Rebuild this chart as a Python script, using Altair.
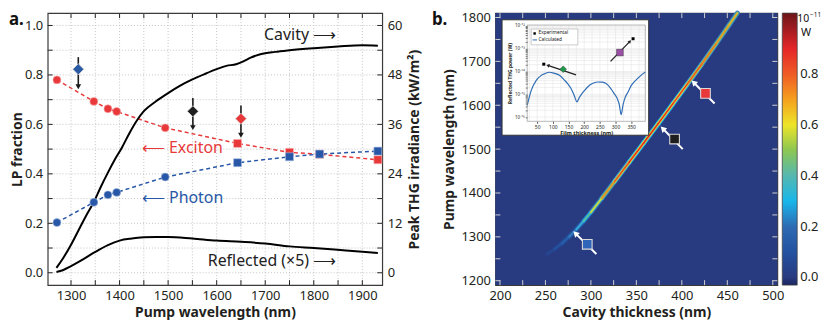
import altair as alt
import pandas as pd

FONT = "Noto Sans"
INK = "#231F20"
RED = "#E8383A"
BLUE = "#2757A6"
NAVY = "#283A80"

# ================= panel a data =================
frac_nm = [1271, 1347, 1376, 1394, 1494, 1643, 1750, 1812, 1932]
exciton = [0.780, 0.693, 0.663, 0.652, 0.586, 0.523, 0.487, 0.479, 0.457]
photon = [0.203, 0.285, 0.315, 0.325, 0.387, 0.445, 0.469, 0.480, 0.492]
frac_shape = ["circle", "circle", "circle", "circle", "circle",
              "square", "square", "square", "square"]

limit_nm = [1315, 1551, 1650]
limit_val = [0.823, 0.653, 0.623]
limit_top = [0.872, 0.707, 0.676]
limit_tip = [0.752, 0.587, 0.556]
limit_fill = ["#2A5AA4", "#1E1E1E", "#E8383A"]

cavity_nm = [1270, 1283, 1300, 1315, 1330, 1348, 1362, 1376, 1390, 1405, 1420,
             1436, 1450, 1475, 1500, 1525, 1550, 1575, 1600, 1620, 1640, 1655,
             1670, 1690, 1720, 1750, 1800, 1850, 1900, 1932]
cavity_kw = [1.2, 3.4, 6.8, 10.2, 13.6, 17.4, 21.0, 24.3, 27.4, 30.4, 33.8,
             37.0, 39.2, 41.6, 43.6, 45.4, 46.9, 48.2, 49.4, 50.2, 50.6, 51.3,
             52.2, 53.0, 53.6, 54.0, 54.5, 54.9, 55.2, 55.1]
refl_nm = [1270, 1283, 1300, 1321, 1349, 1376, 1400, 1425, 1450, 1475, 1500,
           1550, 1600, 1650, 1700, 1750, 1800, 1866, 1932]
refl_kw = [0.2, 0.6, 1.6, 3.0, 5.0, 6.7, 7.8, 8.3, 8.6, 8.7, 8.7,
           8.3, 7.8, 7.5, 7.1, 6.4, 6.0, 5.4, 4.8]

frac_label_text = ["\u27f5 Exciton", "\u27f5 Photon"]
frac_label_nm = [1446, 1446]
frac_label_val = [0.504, 0.303]
frac_label_color = [RED, BLUE]
curve_label_text = ["Cavity \u27f6", "Reflected (\u00d75) \u27f6"]
curve_label_nm = [1846, 1846]
curve_label_kw = [57.8, 2.8]

a_xticks = [1300, 1350, 1400, 1450, 1500, 1550, 1600, 1650, 1700, 1750, 1800, 1850, 1900]
a_yticks = [0.0, 0.1, 0.2, 0.3, 0.4, 0.5, 0.6, 0.7, 0.8, 0.9, 1.0]
r_yticks = [0, 6, 12, 18, 24, 30, 36, 42, 48, 54, 60]

# ================= panel b data =================
ridge_cav = [252, 260, 268, 276, 284, 292, 300, 312, 326, 342, 358, 374, 390,
             406, 422, 438, 452, 461]
ridge_pump = [1261, 1272, 1285, 1300, 1317, 1336, 1356, 1388, 1426, 1470, 1514,
              1558, 1603, 1648, 1694, 1741, 1783, 1810]
ridge_val = [0.04, 0.08, 0.13, 0.20, 0.28, 0.38, 0.50, 0.66, 0.80, 0.88, 0.92,
             0.93, 0.90, 0.86, 0.80, 0.74, 0.70, 0.68]

sq_cav = [296, 392, 426]
sq_pump = [1283, 1523, 1627]
sq_fill = ["#2F66BA", "#1E1E1E", "#E8383A"]
arr_tail_cav = [306, 401, 436]
arr_tail_pump = [1261, 1500, 1604]
arr_tip_cav = [283, 379, 413]
arr_tip_pump = [1308, 1547, 1652]

b_xticks = list(range(200, 501, 25))
b_yticks = list(range(1200, 1801, 50))

cbar_stops = [-0.03, 0.0, 0.1, 0.2, 0.27, 0.3, 0.35, 0.4, 0.45, 0.5, 0.55, 0.6,
              0.65, 0.7, 0.75, 0.8, 0.85, 0.9, 0.95, 1.0, 1.04]
cbar_colors = ["#1B2560", "#283A80", "#2352A0", "#2E6BB3", "#3D8FCE", "#18B6EA",
               "#3FB6D6", "#55B8B0", "#6DBE88", "#8CC653", "#B5D33A", "#EDE528",
               "#FBCB1E", "#F5A01E", "#F27A24", "#EF5B26", "#EC3E27", "#E52629",
               "#C41E24", "#8E1A1E", "#6B1418"]
cbar_labels = [0.0, 0.2, 0.4, 0.6, 0.8]
cbar_unit_base = "10"
cbar_unit_exp = "\u221211"
cbar_unit = "W"

# inset
film_nm = [18, 31, 47, 62, 73, 89, 105, 121, 137, 147, 158, 168, 177, 184, 190,
           200, 211, 226, 242, 258, 270, 285, 296, 306, 312, 318, 324, 330, 340,
           350, 362, 372, 383, 395]
film_power = [3.24e-16, 1.48e-15, 4.07e-15, 6.6e-15, 7.9e-15, 9.3e-15, 8.3e-15,
              6.8e-15, 4.2e-15, 2.95e-15, 1.78e-15, 8.9e-16, 4.6e-16, 7.1e-16,
              9.5e-16, 1.41e-15, 2.1e-15, 2.95e-15, 3.47e-15, 3.39e-15, 2.95e-15,
              1.78e-15, 1.05e-15, 6.3e-16, 3.5e-16, 1.26e-16, 3.5e-16, 6.8e-16,
              1.26e-15, 2.4e-15, 3.8e-15, 5.2e-15, 7.1e-15, 9.5e-15]
exp_nm = [71, 356]
exp_power = [2.1e-14, 2.75e-13]
ins_mark_nm = [133, 314]
ins_mark_power = [1.26e-14, 6.8e-14]
ins_mark_shape = ["diamond", "square"]
ins_mark_fill = ["#1E9A48", "#9B4FA6"]
ins_arr_tail_nm = [174, 284]
ins_arr_tail_p = [7.2e-15, 2.8e-14]
ins_arr_tip_nm = [84, 346]
ins_arr_tip_p = [1.86e-14, 2.1e-13]
ins_arr_angle = [288, 45]
ins_xticks = [50, 100, 150, 200, 250, 300, 350]
ins_xgrid = [25, 50, 75, 100, 125, 150, 175, 200, 225, 250, 275, 300, 325, 350, 375]
ins_yticks = [m * 10.0 ** e for e in range(-16, -12) for m in range(1, 10)] + [1e-12]

# ================= layout constants =================
W_A, H = 337, 274
W_B = 284
TL = 5  # inward tick length
IN_X0, IN_X1, IN_Y0, IN_Y1 = 32, 151, 12, 109


def XA():
    return alt.Scale(domain=[1252, 1941], nice=False, zero=False)


def YL():
    return alt.Scale(domain=[-0.05, 1.05], nice=False, zero=False)


def YR():
    return alt.Scale(domain=[-3, 63], nice=False, zero=False)


def XB():
    return alt.Scale(domain=[195, 505], nice=False, zero=False)


def YB():
    return alt.Scale(domain=[1190, 1810], nice=False, zero=False)


def INX():
    return alt.Scale(domain=[18, 395], range=[IN_X0, IN_X1], nice=False, zero=False)


def INY():
    return alt.Scale(type="log", domain=[6.5e-17, 1.1e-12], range=[IN_Y1, IN_Y0], nice=False)


CSCALE = alt.Scale(domain=cbar_stops, range=cbar_colors, clamp=True)


def pos(ch, field, scale, hide):
    if hide:
        return ch(field, scale=scale, axis=None)
    return ch(field, scale=scale)


def frame_ticks(values, scale, orient, w, h, color, hide=True, length=TL, width=1.0, dash=None):
    df = pd.DataFrame({"t": values})
    kw = dict(color=color, strokeWidth=width)
    if dash:
        kw["strokeDash"] = dash
    base = alt.Chart(df).mark_rule(**kw)
    if orient == "bottom":
        return base.encode(x=pos(alt.X, "t:Q", scale, hide), y=alt.value(h), y2=alt.value(h - length))
    if orient == "top":
        return base.encode(x=pos(alt.X, "t:Q", scale, hide), y=alt.value(0), y2=alt.value(length))
    if orient == "left":
        return base.encode(y=pos(alt.Y, "t:Q", scale, hide), x=alt.value(0), x2=alt.value(length))
    return base.encode(y=pos(alt.Y, "t:Q", scale, hide), x=alt.value(w), x2=alt.value(w - length))


def label_text(txt, x, y, size, weight="normal", align="left", baseline="alphabetic"):
    return alt.Chart(pd.DataFrame({"t": [txt]})).mark_text(
        align=align, baseline=baseline, fontSize=size, fontWeight=weight,
        font=FONT, color="#111").encode(text="t:N", x=alt.value(x), y=alt.value(y))


# ================= panel a =================
frac = pd.DataFrame({"nm": frac_nm, "exc": exciton, "pho": photon, "shape": frac_shape})
lim = pd.DataFrame({"nm": limit_nm, "val": limit_val, "top": limit_top,
                    "tip": limit_tip, "fill": limit_fill})
cav = pd.DataFrame({"nm": cavity_nm, "kw": cavity_kw})
refl = pd.DataFrame({"nm": refl_nm, "kw": refl_kw})
flab = pd.DataFrame({"nm": frac_label_nm, "val": frac_label_val,
                     "text": frac_label_text, "col": frac_label_color})
clab = pd.DataFrame({"nm": curve_label_nm, "kw": curve_label_kw, "text": curve_label_text})

axis_xa = alt.Axis(title="Pump wavelength (nm)", values=a_xticks, format="d",
                   labelExpr="datum.value % 100 == 0 ? datum.label : ''",
                   grid=False, tickSize=0, labelPadding=4, domain=False, labelFlush=False,
                   labelOverlap=False, titlePadding=4)
axis_yl = alt.Axis(title="LP fraction", values=a_yticks,
                   labelExpr="round(datum.value*10) % 2 == 0 ? format(datum.value, '.1f') : ''",
                   grid=False, tickSize=0, labelPadding=5, domain=False, labelFlush=False,
                   labelOverlap=False, titlePadding=0)
axis_yr = alt.Axis(title="Peak THG irradiance (kW/m\u00b2)", orient="right", values=r_yticks,
                   labelExpr="datum.value % 12 == 0 ? datum.label : ''",
                   grid=False, tickSize=0, labelPadding=5, domain=False,
                   labelFlush=False, labelOverlap=False, titleAngle=270,
                   titleBaseline="top", titlePadding=6)


def xa():
    return alt.X("nm:Q", scale=XA())


def shape_enc():
    return alt.Shape("shape:N", scale=alt.Scale(domain=["circle", "square"],
                                                range=["circle", "square"]), legend=None)


GRID = "#b5b5b5"
panel_a = alt.layer(
    alt.Chart(frac).mark_line(color=RED, strokeDash=[4, 3], strokeWidth=1.5).encode(
        x=alt.X("nm:Q", scale=XA(), axis=axis_xa), y=alt.Y("exc:Q", scale=YL(), axis=axis_yl)),
    frame_ticks(a_xticks, XA(), "bottom", W_A, H, GRID, hide=False, length=H, width=0.8, dash=[1, 2]),
    frame_ticks(a_yticks, YL(), "left", W_A, H, GRID, length=W_A, width=0.8, dash=[1, 2]),
    alt.Chart(frac).mark_line(color=BLUE, strokeDash=[4, 3], strokeWidth=1.5).encode(
        x=xa(), y=alt.Y("pho:Q", scale=YL(), axis=None)),
    frame_ticks(a_xticks, XA(), "bottom", W_A, H, "#222", hide=False),
    frame_ticks(a_xticks, XA(), "top", W_A, H, "#222", hide=False),
    frame_ticks(a_yticks, YL(), "left", W_A, H, "#222"),
    frame_ticks(a_yticks, YL(), "right", W_A, H, "#222"),
    alt.Chart(cav).mark_line(color="black", strokeWidth=2, interpolate="monotone").encode(
        x=xa(), y=alt.Y("kw:Q", scale=YR(), axis=axis_yr)),
    alt.Chart(refl).mark_line(color="black", strokeWidth=2, interpolate="monotone").encode(
        x=xa(), y=alt.Y("kw:Q", scale=YR(), axis=None)),
    alt.Chart(frac).mark_point(filled=True, size=64, opacity=1, color=RED,
                               stroke="#f6b0b0", strokeWidth=0.6).encode(
        x=xa(), y=alt.Y("exc:Q", scale=YL(), axis=None), shape=shape_enc()),
    alt.Chart(frac).mark_point(filled=True, size=64, opacity=1, color=BLUE,
                               stroke="#a8bde0", strokeWidth=0.6).encode(
        x=xa(), y=alt.Y("pho:Q", scale=YL(), axis=None), shape=shape_enc()),
    alt.Chart(lim).mark_rule(color="#1a1a1a", strokeWidth=1.6).encode(
        x=xa(), y=alt.Y("top:Q", scale=YL(), axis=None), y2="tip:Q"),
    alt.Chart(lim).mark_point(shape="triangle-down", filled=True, size=32, opacity=1,
                              color="#1a1a1a").encode(
        x=xa(), y=alt.Y("tip:Q", scale=YL(), axis=None)),
    alt.Chart(lim).mark_point(shape="diamond", filled=True, size=125, opacity=1,
                              stroke="#d8d8d8", strokeWidth=0.8).encode(
        x=xa(), y=alt.Y("val:Q", scale=YL(), axis=None),
        fill=alt.Fill("fill:N", scale=None)),
    alt.Chart(flab).mark_text(align="left", baseline="middle", fontSize=16, font=FONT).encode(
        x=xa(), y=alt.Y("val:Q", scale=YL(), axis=None), text="text:N",
        fill=alt.Fill("col:N", scale=None)),
    alt.Chart(clab).mark_text(align="right", baseline="middle", fontSize=16, font=FONT,
                              color="#222").encode(
        x=xa(), y=alt.Y("kw:Q", scale=YR(), axis=None), text="text:N"),
    label_text("a.", -39, 12, 17, weight="bold"),
).resolve_scale(y="independent").properties(width=W_A, height=H)

# ================= panel b =================
ridge = pd.DataFrame({
    "c1": ridge_cav[:-1], "p1": ridge_pump[:-1],
    "c2": ridge_cav[1:], "p2": ridge_pump[1:],
    "val": [(a + b) / 2 for a, b in zip(ridge_val[:-1], ridge_val[1:])],
})
sq = pd.DataFrame({"cav": sq_cav, "pump": sq_pump, "fill": sq_fill})
arr = pd.DataFrame({"tc": arr_tail_cav, "tp": arr_tail_pump,
                    "hc": arr_tip_cav, "hp": arr_tip_pump})

LEG = alt.Legend(title=None, orient="right", offset=5, padding=0, gradientLength=H,
                 gradientThickness=15, gradientStrokeColor="#444", gradientStrokeWidth=0.8,
                 values=cbar_labels, format=".1f",
                 labelFontSize=13, labelOffset=3, labelOverlap=False, labelFont=FONT,
                 labelColor=INK, direction="vertical", type="gradient")

axis_xb = alt.Axis(title="Cavity thickness (nm)", values=list(range(200, 501, 50)),
                   tickSize=0, grid=False, domain=False, labelPadding=4,
                   labelFlush=False, labelOverlap=False, titlePadding=4)
axis_yb = alt.Axis(title="Pump wavelength (nm)", values=list(range(1200, 1801, 100)),
                   format="d", tickSize=0, grid=False, domain=False, labelPadding=5,
                   labelFlush=False, labelOverlap=False, titlePadding=4)

ridge_layers = []
for i, (w, f) in enumerate([(5.0, 0.33), (3.0, 0.68), (1.4, 1.0)]):
    ridge_layers.append(
        alt.Chart(ridge).transform_calculate(v=f"datum.val * {f}").mark_rule(
            strokeWidth=w, strokeCap="round").encode(
            x=alt.X("c1:Q", scale=XB(), axis=axis_xb if i == 0 else None),
            y=alt.Y("p1:Q", scale=YB(), axis=axis_yb if i == 0 else None),
            x2="c2:Q", y2="p2:Q",
            color=alt.Color("v:Q", scale=CSCALE, legend=LEG)))

film = pd.DataFrame({"nm": film_nm, "p": film_power})
expd = pd.DataFrame({"nm": exp_nm, "p": exp_power})
imark = pd.DataFrame({"nm": ins_mark_nm, "p": ins_mark_power,
                      "shape": ins_mark_shape, "fill": ins_mark_fill})
iarr = pd.DataFrame({"tn": ins_arr_tail_nm, "tp": ins_arr_tail_p,
                     "hn": ins_arr_tip_nm, "hp": ins_arr_tip_p, "ang": ins_arr_angle})
iframe = pd.DataFrame({"x1": [18], "x2": [395], "y1": [6.5e-17], "y2": [1.1e-12]})

LOG_LABEL = ("abs(log(datum.value)/LN10 - round(log(datum.value)/LN10)) < 0.01 ? "
             "'10' + ['\u207b\u00b9\u2076','\u207b\u00b9\u2075','\u207b\u00b9\u2074',"
             "'\u207b\u00b9\u00b3','\u207b\u00b9\u00b2'][round(log(datum.value)/LN10)+16] : ''")
in_xaxis = alt.Axis(orient="bottom", offset=-(H - IN_Y1), values=ins_xticks, format="d",
                    title="Film thickness (nm)", titleFontSize=5.5, labelFontSize=5,
                    tickSize=2, labelPadding=1, titlePadding=1, grid=False,
                    domain=False, zindex=1, labelFlush=False, labelOverlap=False,
                    tickColor="#555")
in_yaxis = alt.Axis(orient="left", offset=-IN_X0, values=ins_yticks, labelExpr=LOG_LABEL,
                    title="Reflected THG power (W)", titleFontSize=5, labelFontSize=4.5,
                    tickSize=2, labelPadding=1, titlePadding=2, grid=False,
                    domain=False, zindex=1, labelFlush=False, labelOverlap=False,
                    tickColor="#777")

one = pd.DataFrame({"k": [0]})

panel_b = alt.layer(
    alt.Chart(one).mark_rect(color=NAVY).encode(
        x=alt.value(0), x2=alt.value(W_B), y=alt.value(0), y2=alt.value(H)),
    *ridge_layers,
    frame_ticks(b_xticks, XB(), "bottom", W_B, H, "#d0d0d0"),
    frame_ticks(b_xticks, XB(), "top", W_B, H, "#d0d0d0"),
    frame_ticks(b_yticks, YB(), "left", W_B, H, "#d0d0d0"),
    frame_ticks(b_yticks, YB(), "right", W_B, H, "#d0d0d0"),
    alt.Chart(arr).mark_rule(color="white", strokeWidth=2).encode(
        x=alt.X("tc:Q", scale=XB(), axis=None), y=alt.Y("tp:Q", scale=YB(), axis=None),
        x2="hc:Q", y2="hp:Q"),
    alt.Chart(arr).mark_point(shape="triangle-up", angle=315, filled=True, size=45,
                              opacity=1, color="white").encode(
        x=alt.X("hc:Q", scale=XB(), axis=None), y=alt.Y("hp:Q", scale=YB(), axis=None)),
    alt.Chart(sq).mark_square(size=95, opacity=1, stroke="#d8d8d8", strokeWidth=1.1).encode(
        x=alt.X("cav:Q", scale=XB(), axis=None), y=alt.Y("pump:Q", scale=YB(), axis=None),
        fill=alt.Fill("fill:N", scale=None)),
    label_text("b.", -64, 12, 17, weight="bold"),
    # colour-bar unit: 10^-11 W
    label_text(cbar_unit_base, W_B + 20, 6, 10.5, baseline="middle"),
    label_text(cbar_unit_exp, W_B + 33, 2, 6.5, baseline="middle"),
    label_text(cbar_unit, W_B + 29, 20.5, 11, align="center", baseline="middle"),
    # ---- inset ----
    alt.Chart(one).mark_rect(fill="white", stroke="#333", strokeWidth=1).encode(
        x=alt.value(6.7), x2=alt.value(154.4), y=alt.value(6.7), y2=alt.value(123)),
    alt.Chart(pd.DataFrame({"t": ins_xgrid})).mark_rule(color="#e0e0e0", strokeWidth=0.5).encode(
        x=alt.X("t:Q", scale=INX(), axis=None), y=alt.value(IN_Y0), y2=alt.value(IN_Y1)),
    alt.Chart(pd.DataFrame({"t": ins_yticks})).mark_rule(color="#e0e0e0", strokeWidth=0.5).encode(
        y=alt.Y("t:Q", scale=INY(), axis=None), x=alt.value(IN_X0), x2=alt.value(IN_X1)),
    alt.Chart(film).mark_line(color="#2F6DB5", strokeWidth=1.2, interpolate="monotone").encode(
        x=alt.X("nm:Q", scale=INX(), axis=in_xaxis), y=alt.Y("p:Q", scale=INY(), axis=in_yaxis)),
    alt.Chart(iframe).mark_rect(fillOpacity=0, stroke="#888", strokeWidth=0.6).encode(
        x=alt.X("x1:Q", scale=INX(), axis=None), x2="x2:Q",
        y=alt.Y("y1:Q", scale=INY(), axis=None), y2="y2:Q"),
    alt.Chart(iarr).mark_rule(color="#222", strokeWidth=1.3).encode(
        x=alt.X("tn:Q", scale=INX(), axis=None), y=alt.Y("tp:Q", scale=INY(), axis=None),
        x2="hn:Q", y2="hp:Q"),
    alt.Chart(iarr).mark_point(shape="triangle-up", filled=True, size=14, opacity=1,
                               color="#222").encode(
        x=alt.X("hn:Q", scale=INX(), axis=None), y=alt.Y("hp:Q", scale=INY(), axis=None),
        angle=alt.Angle("ang:Q", scale=None)),
    alt.Chart(imark).mark_point(filled=True, size=45, opacity=1, stroke="#333",
                                strokeWidth=0.5).encode(
        x=alt.X("nm:Q", scale=INX(), axis=None), y=alt.Y("p:Q", scale=INY(), axis=None),
        shape=alt.Shape("shape:N", scale=None), fill=alt.Fill("fill:N", scale=None)),
    alt.Chart(expd).mark_square(size=9, opacity=1, color="black").encode(
        x=alt.X("nm:Q", scale=INX(), axis=None), y=alt.Y("p:Q", scale=INY(), axis=None)),
    alt.Chart(one).mark_rect(fill="white", stroke="#999", strokeWidth=0.5).encode(
        x=alt.value(36), x2=alt.value(83), y=alt.value(16), y2=alt.value(32)),
    alt.Chart(one).mark_square(size=6, opacity=1, color="black").encode(
        x=alt.value(39.5), y=alt.value(20.5)),
    alt.Chart(one).mark_rule(color="#2F6DB5", strokeWidth=1).encode(
        x=alt.value(37.5), x2=alt.value(42), y=alt.value(27)),
    label_text("Experimental", 43.5, 20.5, 4.8, baseline="middle"),
    label_text("Calculated", 43.5, 27, 4.8, baseline="middle"),
).resolve_scale(x="independent", y="independent").properties(width=W_B, height=H)

chart = alt.hconcat(panel_a, panel_b, spacing=8).resolve_scale(
    color="independent", shape="independent", fill="independent").properties(
    padding={"left": 0, "top": 0, "right": 0, "bottom": 0}
).configure(font=FONT).configure_axis(
    labelFont=FONT, titleFont=FONT, labelFontSize=13, titleFontSize=14,
    titleFontWeight="bold", labelColor=INK, titleColor=INK
).configure_view(stroke="#3a3a3a", strokeWidth=1.2).configure_text(font=FONT)

chart.save("out.html", embed_options={"renderer": "svg", "actions": False})
